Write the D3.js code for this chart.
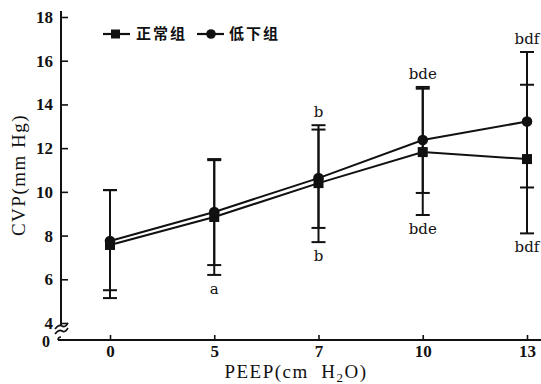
<!DOCTYPE html>
<html>
<head>
<meta charset="utf-8">
<script src="https://cdn.jsdelivr.net/npm/d3@7"></script>
<style>
	body { margin: 0; background: #fff; }
	svg { display: block; }
</style>
</head>
<body>
<div id="svg-container"></div>
<script>

// DATA
const peep = ['0', '5', '7', '10', '13'];
const yTicks = [4, 6, 8, 10, 12, 14, 16, 18];

// 正常组 (squares)
const normalMean = [7.57, 8.85, 10.4, 11.82, 11.5];
const normalUpper = [10.08, 11.45, 13.05, 14.72, 14.9];
const normalLower = [5.14, 6.2, 7.7, 8.94, 8.1];

// 低下组 (circles)
const lowMean = [7.75, 9.08, 10.63, 12.37, 13.22];
const lowUpper = [10.08, 11.5, 12.85, 14.8, 16.4];
const lowLower = [5.5, 6.65, 8.35, 9.95, 10.2];

// significance marks above / below
const marksTop = ['', '', 'b', 'bde', 'bdf'];
const marksBottom = ['', 'a', 'b', 'bde', 'bdf'];


function visualizeData() {
	const w = 541, h = 384;
	const axisX = 61, axisY = 340;
	const ink = '#111';

	const svg = d3.select('#svg-container').append('svg')
		.attr('width', w)
		.attr('height', h);

	// scales
	const xScale = d3.scalePoint().domain(peep).range([110, 527]);
	const yScale = d3.scaleLinear().domain([4, 18]).range([323, 17]);

	const tickStyle = (g) => {
		g.select('.domain').remove();
		g.selectAll('.tick line').attr('stroke', ink).attr('stroke-width', 1.6);
		g.selectAll('.tick text')
			.attr('fill', ink)
			.style('font-family', '"Liberation Serif", serif')
			.style('font-size', '17px')
			.style('font-weight', 'bold');
	};

	// y axis (upper part, above the break)
	const yAxis = d3.axisLeft(yScale)
		.tickValues(yTicks)
		.tickSizeInner(-7)
		.tickSizeOuter(0)
		.tickPadding(8);
	svg.append('g')
		.attr('transform', `translate(${axisX},0)`)
		.call(yAxis)
		.call(tickStyle);
	svg.append('line')
		.attr('x1', axisX).attr('x2', axisX)
		.attr('y1', 11).attr('y2', 326)
		.attr('stroke', ink).attr('stroke-width', 2);

	// axis break
	const br = svg.append('g').attr('fill', 'none').attr('stroke', ink).attr('stroke-width', 1.6);
	br.append('path').attr('d', `M${axisX - 6},${329} q4,-5 7,-3 q3,2 6,-3`);
	br.append('path').attr('d', `M${axisX - 6},${334} q4,-5 7,-3 q3,2 6,-3`);
	br.append('path').attr('d', `M${axisX - 3},${axisY} q0,-3 3,-3`);

	// x axis
	const xAxis = d3.axisBottom(xScale)
		.tickSizeInner(-5)
		.tickSizeOuter(0)
		.tickPadding(5);
	svg.append('g')
		.attr('transform', `translate(0,${axisY})`)
		.call(xAxis)
		.call(tickStyle);
	svg.append('line')
		.attr('x1', axisX - 3).attr('x2', w)
		.attr('y1', axisY).attr('y2', axisY)
		.attr('stroke', ink).attr('stroke-width', 2.2);

	// 0 label of the broken y axis
	svg.append('text')
		.attr('x', axisX - 11).attr('y', axisY + 7)
		.attr('text-anchor', 'end')
		.style('font-family', '"Liberation Serif", serif')
		.style('font-size', '16px').style('font-weight', 'bold')
		.attr('fill', ink)
		.text('0');

	// axis titles
	svg.append('text')
		.attr('x', 296).attr('y', 378)
		.attr('text-anchor', 'middle')
		.style('font-family', '"Liberation Serif", serif')
		.style('font-size', '19px')
		.style('letter-spacing', '1.5px')
		.attr('fill', ink)
		.html('PEEP(cm&#160;&#160;H<tspan font-size="13px" dy="4">2</tspan><tspan dy="-4">O)</tspan>');
	svg.append('text')
		.attr('transform', 'translate(25,175) rotate(-90)')
		.attr('text-anchor', 'middle')
		.style('font-family', '"Liberation Serif", serif')
		.style('font-size', '19px')
		.style('letter-spacing', '1.5px')
		.attr('fill', ink)
		.text('CVP(mm Hg)');

	// error bars
	const groups = [
		{ mean: normalMean, upper: normalUpper, lower: normalLower },
		{ mean: lowMean, upper: lowUpper, lower: lowLower }
	];
	const capW = 7;
	groups.forEach(g => {
		const eb = svg.append('g').attr('stroke', ink).attr('stroke-width', 2);
		eb.selectAll('line.v')
			.data(peep)
			.enter().append('line')
			.attr('x1', d => xScale(d)).attr('x2', d => xScale(d))
			.attr('y1', (d, i) => yScale(g.upper[i]))
			.attr('y2', (d, i) => yScale(g.lower[i]));
		eb.selectAll('line.u')
			.data(peep)
			.enter().append('line')
			.attr('x1', d => xScale(d) - capW).attr('x2', d => xScale(d) + capW)
			.attr('y1', (d, i) => yScale(g.upper[i]))
			.attr('y2', (d, i) => yScale(g.upper[i]));
		eb.selectAll('line.l')
			.data(peep)
			.enter().append('line')
			.attr('x1', d => xScale(d) - capW).attr('x2', d => xScale(d) + capW)
			.attr('y1', (d, i) => yScale(g.lower[i]))
			.attr('y2', (d, i) => yScale(g.lower[i]));
	});

	// lines
	const line = d3.line()
		.x((d, i) => xScale(peep[i]))
		.y(d => yScale(d));
	[normalMean, lowMean].forEach(series => {
		svg.append('path')
			.datum(series)
			.attr('d', line)
			.attr('fill', 'none')
			.attr('stroke', ink)
			.attr('stroke-width', 2);
	});

	// markers
	svg.selectAll('rect.sq')
		.data(normalMean)
		.enter().append('rect')
		.attr('x', (d, i) => xScale(peep[i]) - 5)
		.attr('y', d => yScale(d) - 5)
		.attr('width', 10).attr('height', 10)
		.attr('fill', ink);
	svg.selectAll('circle.ci')
		.data(lowMean)
		.enter().append('circle')
		.attr('cx', (d, i) => xScale(peep[i]))
		.attr('cy', d => yScale(d))
		.attr('r', 5.3)
		.attr('fill', ink);

	// significance marks
	const markFont = (sel) => sel
		.attr('text-anchor', 'middle')
		.style('font-family', '"DejaVu Serif", serif')
		.style('font-size', '15px')
		.attr('fill', ink);
	svg.selectAll('text.mt')
		.data(marksTop)
		.enter().append('text')
		.attr('x', (d, i) => xScale(peep[i]))
		.attr('y', (d, i) => yScale(Math.max(normalUpper[i], lowUpper[i])) - 8)
		.text(d => d)
		.call(markFont);
	svg.selectAll('text.mb')
		.data(marksBottom)
		.enter().append('text')
		.attr('x', (d, i) => xScale(peep[i]))
		.attr('y', (d, i) => yScale(Math.min(normalLower[i], lowLower[i])) + 19)
		.text(d => d)
		.call(markFont);

	// legend
	const lg = svg.append('g');
	const legendFont = (sel) => sel
		.style('font-family', '"Noto Sans CJK SC", sans-serif')
		.style('font-size', '15px')
		.style('font-weight', 'bold')
		.style('letter-spacing', '2px')
		.attr('fill', ink);
	lg.append('line').attr('x1', 103).attr('x2', 130).attr('y1', 34).attr('y2', 34)
		.attr('stroke', ink).attr('stroke-width', 2.2);
	lg.append('rect').attr('x', 111).attr('y', 29.5).attr('width', 9).attr('height', 9).attr('fill', ink);
	lg.append('text').attr('x', 136).attr('y', 39).text('正常组').call(legendFont);
	lg.append('line').attr('x1', 197).attr('x2', 224).attr('y1', 34).attr('y2', 34)
		.attr('stroke', ink).attr('stroke-width', 2.2);
	lg.append('circle').attr('cx', 211).attr('cy', 34).attr('r', 4.8).attr('fill', ink);
	lg.append('text').attr('x', 229).attr('y', 39).text('低下组').call(legendFont);
}


document.addEventListener('DOMContentLoaded', () => {
	visualizeData();
});
</script>
</body>
</html>
